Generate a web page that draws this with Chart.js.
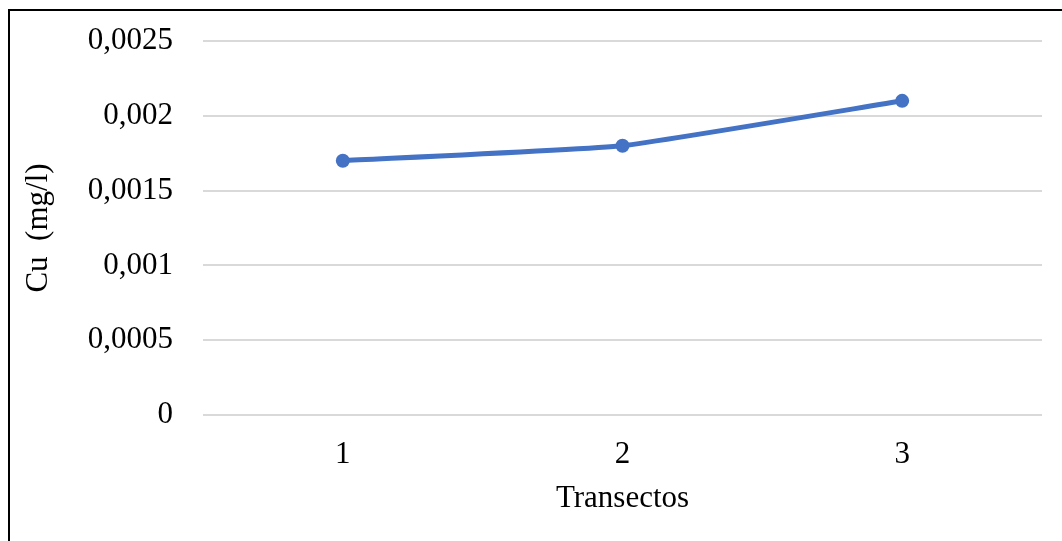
<!DOCTYPE html>
<html>
<head>
<meta charset="utf-8">
<script src="https://cdn.jsdelivr.net/npm/chart.js@4"></script>
<style>
  html, body { margin: 0; padding: 0; background: #fff; overflow: hidden; }
  #wrap { position: relative; width: 1062px; height: 541px; }
  #frame { position: absolute; left: 8px; top: 9px; width: 1100px; height: 600px; border: 2px solid #000; }
  canvas { position: absolute; left: 0; top: 0; }
</style>
</head>
<body>
<div id="wrap">
  <div id="frame"></div>
  <canvas id="cuChart" width="1062" height="541"></canvas>
</div>
<script>
// chart data
const categories = ['1', '2', '3'];
const cuValues = [0.0017, 0.0018, 0.0021];
const yTicks = [0, 0.0005, 0.001, 0.0015, 0.002, 0.0025];

const serif = 'Liberation Serif, Times New Roman, serif';

const ctx = document.getElementById('cuChart').getContext('2d');
new Chart(ctx, {
    type: 'line',
    data: {
        labels: categories,
        datasets: [{
            label: 'Cu',
            data: cuValues,
            borderColor: '#4472C4',
            backgroundColor: '#4472C4',
            borderWidth: 5,
            pointRadius: 7,
            pointBorderWidth: 0,
            tension: 0.12,
        }]
    },
    options: {
        responsive: false,
        animation: false,
        layout: { padding: { left: 0, right: 20, top: 41, bottom: 0 } },
        plugins: {
            legend: { display: false },
            tooltip: { enabled: false }
        },
        scales: {
            x: {
                offset: true,
                grid: { display: false },
                border: { display: false },
                ticks: { color: '#000', padding: 13, font: { family: serif, size: 31 } },
                title: {
                    display: true,
                    text: 'Transectos',
                    color: '#000',
                    font: { family: serif, size: 31 },
                    padding: { top: 24, bottom: 24 }
                },
                afterFit: (scale) => { scale.height = 126; }
            },
            y: {
                min: yTicks[0],
                max: yTicks[yTicks.length - 1],
                grid: { color: '#d9d9d9', lineWidth: 2, drawTicks: false },
                border: { display: false },
                ticks: {
                    stepSize: 0.0005,
                    padding: 30,
                    color: '#000',
                    font: { family: serif, size: 31 },
                    callback: (v) => Number(v.toFixed(4)).toString().replace('.', ',')
                },
                title: {
                    display: true,
                    text: 'Cu  (mg/l)',
                    color: '#000',
                    font: { family: serif, size: 31 },
                    padding: { top: 20, bottom: 20 }
                },
                afterFit: (scale) => {
                    scale.width = 203;
                    // keep the tick padding from pushing the plot down
                    scale.paddingTop = 0;
                    scale.paddingBottom = 0;
                }
            }
        }
    }
});
</script>
</body>
</html>
